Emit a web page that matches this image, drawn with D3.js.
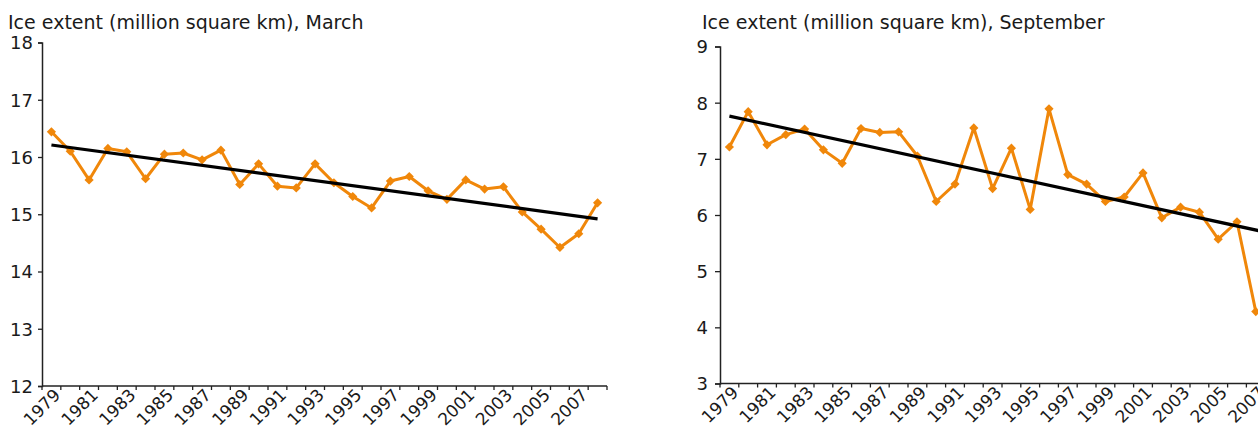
<!DOCTYPE html>
<html>
<head>
<meta charset="utf-8">
<script src="https://cdn.jsdelivr.net/npm/d3@7/dist/d3.min.js"></script>
<style>
  html, body { margin: 0; padding: 0; background: #fff; }
  svg { display: block; }
  text { font-family: "DejaVu Sans", Verdana, sans-serif; fill: #1a1a1a; }
</style>
</head>
<body>
<svg id="chart" width="1258" height="432"></svg>
<script>
// Years shown on the category axis
const years = d3.range(1979, 2009);
// Year labels (every other year)
const yearLabels = ["1979","1981","1983","1985","1987","1989","1991","1993","1995","1997","1999","2001","2003","2005","2007"];

// March sea-ice extent, million km²
const marchExtent = [16.44, 16.10, 15.60, 16.15, 16.09, 15.62, 16.05, 16.07, 15.95, 16.12,
                     15.52, 15.88, 15.49, 15.46, 15.88, 15.55, 15.31, 15.11, 15.58, 15.66,
                     15.41, 15.26, 15.60, 15.44, 15.48, 15.04, 14.74, 14.42, 14.66, 15.20];
// Linear trend, March (first and last year)
const marchTrend = [16.21, 14.92];
const marchTicks = [12, 13, 14, 15, 16, 17, 18];

// September sea-ice extent, million km²
const septExtent = [7.21, 7.84, 7.25, 7.43, 7.53, 7.16, 6.92, 7.54, 7.47, 7.48,
                    7.05, 6.24, 6.55, 7.55, 6.47, 7.19, 6.10, 7.89, 6.72, 6.55,
                    6.24, 6.32, 6.75, 5.95, 6.14, 6.05, 5.57, 5.88, 4.28];
// Linear trend, September (first and last year)
const septTrend = [7.76, 5.66];
const septTicks = [3, 4, 5, 6, 7, 8, 9];

const svg = d3.select("#chart");
const ORANGE = "#f0870a";

function panel(opts) {
  const g = svg.append("g");
  const x = d3.scaleBand().domain(years).range([opts.left, opts.left + opts.width]);
  const y = d3.scaleLinear().domain(opts.domain).range([opts.bottom, opts.top]);
  const cx = yr => x(yr) + x.bandwidth() / 2;

  // title
  g.append("text")
    .attr("x", opts.titleX).attr("y", 29)
    .attr("font-size", 19)
    .text(opts.title);

  // y axis
  const ya = g.append("g")
    .attr("transform", `translate(${opts.left},0)`)
    .call(d3.axisLeft(y).tickValues(opts.ticks).tickSize(opts.tickLen).tickPadding(opts.pad).tickFormat(d3.format("d")));
  ya.selectAll("text").attr("font-size", 18).attr("dy", "0.36em").style("font-family", "DejaVu Sans");
  ya.select(".domain").attr("stroke", "#222").attr("stroke-width", 1.5);
  ya.selectAll(".tick line").attr("stroke", "#222").attr("stroke-width", 1.3);

  // x axis: tick marks at the category boundaries
  const xg = g.append("g").attr("transform", `translate(0,${opts.bottom})`);
  const bounds = years.map(yr => x(yr)).concat([opts.left + opts.width]);
  xg.selectAll("line.tk").data(bounds).join("line")
    .attr("x1", d => d).attr("x2", d => d).attr("y1", 0).attr("y2", 4)
    .attr("stroke", "#222").attr("stroke-width", 1.3);
  xg.append("line")
    .attr("x1", opts.left).attr("x2", opts.left + opts.width)
    .attr("stroke", "#222").attr("stroke-width", 1.5);
  xg.selectAll("text.yl").data(yearLabels).join("text")
    .attr("class", "yl")
    .attr("font-size", 17)
    .attr("text-anchor", "end")
    .attr("transform", d => `translate(${cx(+d) + 10},${10}) rotate(-45)`)
    .text(d => d);

  // data line
  const line = d3.line().x((d, i) => cx(years[i])).y(d => y(d));
  g.append("path").datum(opts.values)
    .attr("d", line).attr("fill", "none")
    .attr("stroke", ORANGE).attr("stroke-width", 3).attr("stroke-linejoin", "round");
  g.selectAll("path.mk").data(opts.values).join("path")
    .attr("class", "mk")
    .attr("d", d3.symbol(d3.symbolSquare, 42)())
    .attr("transform", (d, i) => `translate(${cx(years[i])},${y(d)}) rotate(45)`)
    .attr("fill", ORANGE);

  // trend line
  g.append("line")
    .attr("x1", cx(years[0])).attr("y1", y(opts.trend[0]))
    .attr("x2", cx(years[years.length - 1])).attr("y2", y(opts.trend[1]))
    .attr("stroke", "#000").attr("stroke-width", 3.2);
}

panel({ title: "Ice extent (million square km), March", titleX: 8,
        left: 42, width: 565, top: 42.5, bottom: 386, tickLen: 4, pad: 5,
        domain: [12, 18], ticks: marchTicks, values: marchExtent, trend: marchTrend });
panel({ title: "Ice extent (million square km), September", titleX: 702,
        left: 720, width: 564, top: 46.5, bottom: 383.5, tickLen: 5, pad: 7,
        domain: [3, 9], ticks: septTicks, values: septExtent, trend: septTrend });
</script>
</body>
</html>
